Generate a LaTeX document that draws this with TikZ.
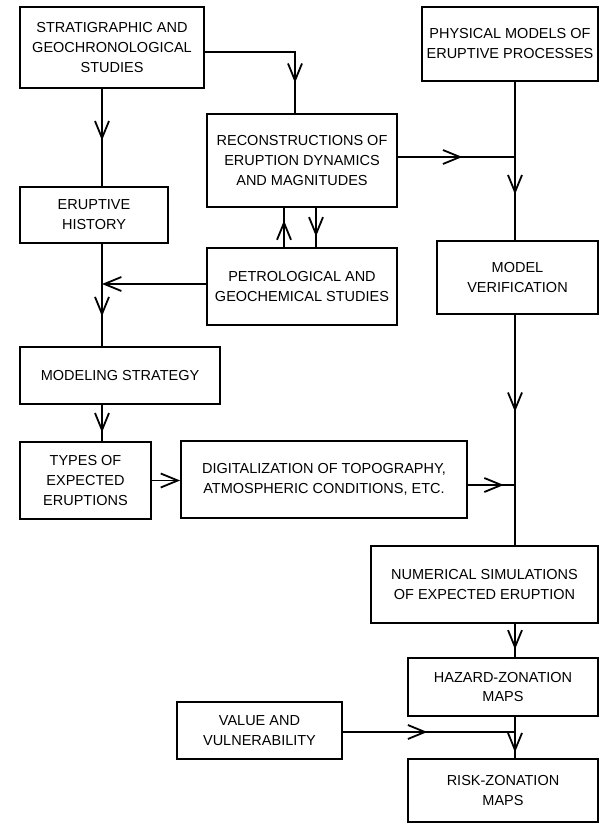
\documentclass[tikz,border=0pt]{standalone}
\usepackage{fontspec}
\setmainfont{Liberation Sans}
\usetikzlibrary{arrows.meta,decorations.markings,calc}
\tikzset{
  box/.style={draw, line width=1.8pt, inner sep=0pt, align=center,
    font=\fontsize{14.5}{20}\selectfont},
  conn/.style={line width=1.8pt, line join=miter},
  barb/.style={-{Straight Barb[length=17pt,width=14pt]}},
  midarr/.style={postaction={decorate},
    decoration={markings, mark=at position #1 with {\arrow{Straight Barb[length=17pt,width=14pt]}}}}
}
\begin{document}
\begin{tikzpicture}[x=1pt,y=-1pt]
\useasboundingbox (0,0) rectangle (600,824);
% boxes
\node[box, minimum width=184pt, minimum height=81pt] (strat) at (112,47.5) {STRATIGRAPHIC AND\\GEOCHRONOLOGICAL\\STUDIES};
\node[box, minimum width=176pt, minimum height=74pt] (phys) at (510,44) {PHYSICAL MODELS OF\\ERUPTIVE PROCESSES};
\node[box, minimum width=190pt, minimum height=93pt] (recon) at (302,160.5) {RECONSTRUCTIONS OF\\ERUPTION DYNAMICS\\AND MAGNITUDES};
\node[box, minimum width=148pt, minimum height=56pt] (hist) at (94,215) {ERUPTIVE\\HISTORY};
\node[box, minimum width=190pt, minimum height=77pt] (petro) at (302,286.5) {PETROLOGICAL AND\\GEOCHEMICAL STUDIES};
\node[box, minimum width=161pt, minimum height=73pt] (verif) at (517.5,277.5) {MODEL\\VERIFICATION};
\node[box, minimum width=200pt, minimum height=57pt] (strategy) at (120,375.5) {MODELING STRATEGY};
\node[box, minimum width=131pt, minimum height=77pt] (types) at (85.5,480.5) {TYPES OF\\EXPECTED\\ERUPTIONS};
\node[box, minimum width=286pt, minimum height=77pt] (digit) at (324,479.5) {DIGITALIZATION OF TOPOGRAPHY,\\ATMOSPHERIC CONDITIONS, ETC.};
\node[box, minimum width=227pt, minimum height=77pt] (numer) at (484.5,584.5) {NUMERICAL SIMULATIONS\\OF EXPECTED ERUPTION};
\node[box, minimum width=190pt, minimum height=58pt] (hazard) at (503,687) {HAZARD-ZONATION\\MAPS};
\node[box, minimum width=165pt, minimum height=57pt] (value) at (259.5,730.5) {VALUE AND\\VULNERABILITY};
\node[box, minimum width=190pt, minimum height=63pt] (risk) at (503,790.5) {RISK-ZONATION\\MAPS};
% junctions
\coordinate (c1) at (295,52);
\coordinate (r1) at (515,157);
\coordinate (r2) at (515,485);
\coordinate (r3) at (515,732);
\coordinate (l1) at (102,284);
\coordinate (u) at (284,0);
\coordinate (d) at (316,0);
% connectors
\draw[conn, midarr=0.8] (strat.east |- c1) -- (c1) -- (c1 |- recon.north);
\draw[conn, midarr=0.53] (strat.south -| l1) -- (hist.north -| l1);
\draw[conn, midarr=0.55] (recon.east |- r1) -- (r1);
\draw[conn] (phys.south -| r1) -- (r1);
\draw[conn, midarr=0.45] (r1) -- (r1 |- verif.north);
\draw[conn, midarr=0.68] (petro.north -| u) -- (recon.south -| u);
\draw[conn, midarr=0.73] (recon.south -| d) -- (petro.north -| d);
\draw[conn, barb] (petro.west |- l1) -- (l1);
\draw[conn] (hist.south -| l1) -- (l1);
\draw[conn, midarr=0.52] (l1) -- (l1 |- strategy.north);
\draw[conn, midarr=0.76] (strategy.south -| l1) -- (types.north -| l1);
\draw[conn, barb] (types.east) -- (types.east -| digit.west);
\draw[conn, midarr=0.76] (digit.east |- r2) -- (r2);
\draw[conn, midarr=0.57] (verif.south -| r2) -- (r2);
\draw[conn] (r2) -- (r2 |- numer.north);
\draw[conn, midarr=0.77] (numer.south -| r2) -- (hazard.north -| r2);
\draw[conn] (hazard.south -| r3) -- (r3);
\draw[conn, midarr=0.78] (r3) -- (r3 |- risk.north);
\draw[conn, midarr=0.49] (value.east |- r3) -- (r3);
\end{tikzpicture}
\end{document}
